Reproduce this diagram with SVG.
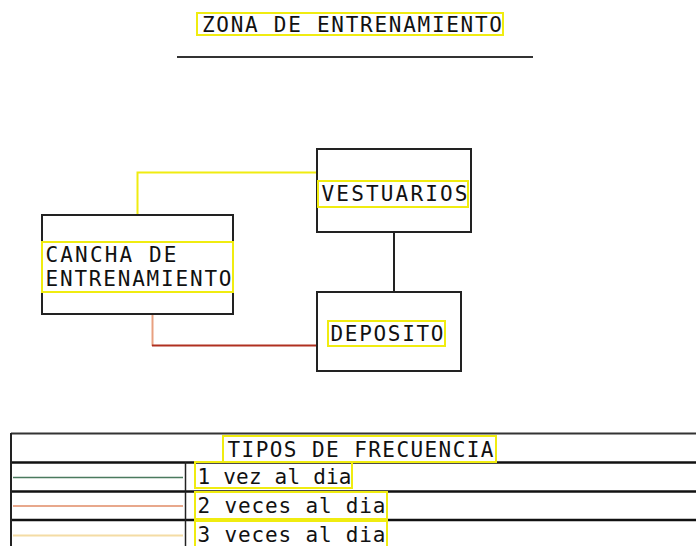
<svg xmlns="http://www.w3.org/2000/svg" width="696" height="546" viewBox="0 0 696 546">
<style>
.box{fill:none;stroke:#222;stroke-width:2}
.lbl{fill:none;stroke:#f0ec10;stroke-width:2}
.t{font-family:"DejaVu Sans Mono","Liberation Mono",monospace;font-size:21px;fill:#111}
.rule{stroke:#111;stroke-width:2.5}
</style>
<rect width="696" height="546" fill="#fff"/>
<g id="title">
<rect class="lbl" x="197" y="13" width="306" height="22"/>
<text class="t" x="202" y="31.5" textLength="300" lengthAdjust="spacing">ZONA DE ENTRENAMIENTO</text>
<line x1="177" y1="57" x2="533" y2="57" stroke="#333" stroke-width="2"/>
</g>
<g id="connectors">
<polyline points="137.5,215 137.5,172.5 317,172.5" fill="none" stroke="#f0ec10" stroke-width="2"/>
<line x1="394" y1="232" x2="394" y2="292" stroke="#222" stroke-width="2"/>
<line x1="152.5" y1="314" x2="152.5" y2="346" stroke="#e8a080" stroke-width="2"/>
<line x1="152" y1="345.5" x2="317" y2="345.5" stroke="#b03020" stroke-width="2"/>
</g>
<g id="vestuarios">
<rect class="box" x="317" y="149" width="154" height="83"/>
<rect class="lbl" x="318" y="181" width="150" height="26"/>
<text class="t" x="321.5" y="200.5" textLength="146" lengthAdjust="spacing">VESTUARIOS</text>
</g>
<g id="cancha">
<rect class="box" x="42" y="215" width="191" height="99"/>
<rect class="lbl" x="42" y="242" width="191" height="50"/>
<text class="t" x="45.5" y="261.5" textLength="131" lengthAdjust="spacing">CANCHA DE</text>
<text class="t" x="45.5" y="285.5" textLength="186" lengthAdjust="spacing">ENTRENAMIENTO</text>
</g>
<g id="deposito">
<rect class="box" x="317" y="292" width="144" height="79"/>
<rect class="lbl" x="328" y="321" width="117" height="25"/>
<text class="t" x="330.5" y="340.5" textLength="113" lengthAdjust="spacing">DEPOSITO</text>
</g>
<g id="tabla">
<line x1="11" y1="433.5" x2="696" y2="433.5" stroke="#333" stroke-width="2"/>
<line class="rule" x1="11" y1="462.5" x2="696" y2="462.5"/>
<line class="rule" x1="11" y1="491.5" x2="696" y2="491.5"/>
<line class="rule" x1="11" y1="520" x2="696" y2="520"/>
<line x1="11" y1="433" x2="11" y2="546" stroke="#222" stroke-width="2"/>
<line x1="185.5" y1="462" x2="185.5" y2="546" stroke="#222" stroke-width="1.5"/>
<line x1="13" y1="477.5" x2="183" y2="477.5" stroke="#4a7a5e" stroke-width="1.5"/>
<line x1="13" y1="506" x2="183" y2="506" stroke="#e8a88c" stroke-width="2"/>
<line x1="13" y1="535.5" x2="183" y2="535.5" stroke="#f4dca4" stroke-width="2"/>
<rect class="lbl" x="223" y="436" width="273" height="26"/>
<text class="t" x="227.5" y="456.5" textLength="266" lengthAdjust="spacing">TIPOS DE FRECUENCIA</text>
<rect class="lbl" x="195" y="462" width="157" height="26"/>
<text class="t" x="197.5" y="483.5" textLength="154" lengthAdjust="spacing">1 vez al dia</text>
<rect class="lbl" x="195" y="492" width="192" height="27"/>
<text class="t" x="197.5" y="512.5" textLength="188" lengthAdjust="spacing">2 veces al dia</text>
<rect class="lbl" x="195" y="521" width="192" height="27"/>
<text class="t" x="197.5" y="541.5" textLength="188" lengthAdjust="spacing">3 veces al dia</text>
</g>
</svg>
